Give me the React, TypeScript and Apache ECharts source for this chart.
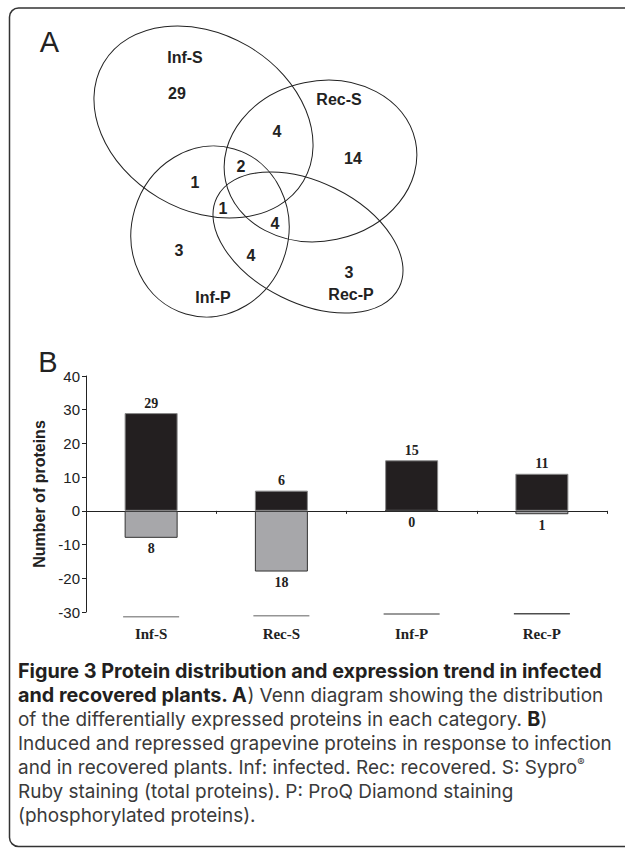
import React, { useEffect, useRef } from 'react';
import * as echarts from 'echarts';

// ---- Bar chart data (panel B) ----
const categories = ['Inf-S', 'Rec-S', 'Inf-P', 'Rec-P'];
const induced = [29, 6, 15, 11];
const repressed = [-8, -18, 0, -1];
const baselineMarks = [-31.4, -31.1, -30.6, -30.5];
const yMin = -30;
const yMax = 40;
const yInterval = 10;

// ---- Venn data (panel A) ----
const vennSets = ['Inf-S', 'Rec-S', 'Inf-P', 'Rec-P'];
const vennCounts = ['29', '4', '14', '2', '1', '1', '4', '3', '4', '3'];

// ---- Caption ----
const captionBoldLine = 'Figure 3 Protein distribution and expression trend in infected';
const captionRegularLine = 'Induced and repressed grapevine proteins in response to infection';
const captionLines = [
  '{b|' + captionBoldLine + '}',
  '{b|and recovered plants. A}{n|) Venn diagram showing the distribution}',
  '{n|of the differentially expressed proteins in each category. }{b|B}{n|)}',
  '{n|' + captionRegularLine + '}',
  '{n|and in recovered plants. Inf: infected. Rec: recovered. S: Sypro}{sup|®}',
  '{n|Ruby staining (total proteins). P: ProQ Diamond staining}',
  '{n|(phosphorylated proteins).}',
];

function fitSize(text: string, font: string, weight: string, target: number): number {
  const c = document.createElement('canvas');
  const ctx = c.getContext('2d');
  if (!ctx) return 19;
  ctx.font = `${weight} 100px ${font}`;
  const w = ctx.measureText(text).width;
  return w > 0 ? (100 * target) / w : 19;
}

export default function App() {
  const ref = useRef<HTMLDivElement>(null);
  useEffect(() => {
    const chart = echarts.init(ref.current!, null, { renderer: 'svg', width: 625, height: 848 });

    const ellipses = [
      { x: 203.5, y: 122, rx: 116, ry: 88, rot: -30.5 },
      { x: 320.5, y: 161, rx: 97, ry: 80, rot: 11.8 },
      { x: 210, y: 231.5, rx: 86, ry: 78.4, rot: 73.7 },
      { x: 308, y: 242.5, rx: 101.7, ry: 60.5, rot: -26.3 },
    ];
    const setLabelPos = [
      [185, 57.5],
      [339, 99],
      [213, 297],
      [351, 294],
    ];
    const countPos = [
      [177, 93],
      [277, 131.5],
      [353, 158],
      [241, 166],
      [195, 182],
      [223, 208],
      [275, 223],
      [179, 250],
      [251, 255],
      [349, 272],
    ];
    const vennFont = { fontFamily: 'Liberation Sans, Arial, sans-serif', fontWeight: 'bold', fontSize: 16, fill: '#222' };
    const capFont = 'Inter';
    const lh = 24.1;
    const bSize = Math.min(19.8, fitSize(captionBoldLine, capFont, 'bold', 594));
    const nSize = Math.min(19.8, fitSize(captionRegularLine, capFont, 'normal', 594));

    const graphic: any[] = [
      {
        type: 'rect',
        shape: { x: 9.5, y: 8, width: 700, height: 838.5, r: 9 },
        style: { fill: 'none', stroke: '#333', lineWidth: 1.5 },
        silent: true,
      },
      ...ellipses.map((e) => ({
        type: 'ellipse',
        x: e.x,
        y: e.y,
        rotation: (e.rot * Math.PI) / 180,
        shape: { cx: 0, cy: 0, rx: e.rx, ry: e.ry },
        style: { fill: 'none', stroke: '#222', lineWidth: 1 },
      })),
      ...vennSets.map((t, i) => ({
        type: 'text',
        x: setLabelPos[i][0],
        y: setLabelPos[i][1],
        style: { text: t, align: 'center', verticalAlign: 'middle', ...vennFont },
      })),
      ...vennCounts.map((t, i) => ({
        type: 'text',
        x: countPos[i][0],
        y: countPos[i][1],
        style: { text: t, align: 'center', verticalAlign: 'middle', ...vennFont },
      })),
      {
        type: 'text',
        x: 49.5,
        y: 42,
        style: { text: 'A', align: 'center', verticalAlign: 'middle', fontFamily: 'Liberation Sans, Arial, sans-serif', fontSize: 29, fill: '#222' },
      },
      {
        type: 'text',
        x: 48,
        y: 361.5,
        style: { text: 'B', align: 'center', verticalAlign: 'middle', fontFamily: 'Liberation Sans, Arial, sans-serif', fontSize: 29, fill: '#222' },
      },
      {
        type: 'text',
        x: 18,
        y: 671 - lh / 2,
        style: {
          text: captionLines.join('\n'),
          align: 'left',
          verticalAlign: 'top',
          fontFamily: capFont,
          fontSize: nSize,
          lineHeight: lh,
          rich: {
            b: { fontFamily: capFont, fontSize: bSize, fontWeight: 'bold', fill: '#231f20', lineHeight: lh },
            n: { fontFamily: capFont, fontSize: nSize, fill: '#3a3a3a', lineHeight: lh },
            sup: { fontFamily: capFont, fontSize: 11, fill: '#3a3a3a', lineHeight: lh, verticalAlign: 'top', padding: [1, 0, 0, 0] },
          },
        },
      },
    ];

    const option: any = {
      animation: false,
      backgroundColor: '#ffffff',
      grid: { left: 86, right: 18, top: 376, bottom: 236, containLabel: false },
      xAxis: [
        {
          type: 'category',
          data: categories,
          position: 'bottom',
          axisLine: { show: true, onZero: true, lineStyle: { color: '#222', width: 1 } },
          axisTick: { show: true, length: 3, lineStyle: { color: '#222' } },
          axisLabel: { show: false },
          splitLine: { show: false },
        },
        {
          type: 'category',
          data: categories,
          position: 'bottom',
          axisLine: { show: false, onZero: false },
          axisTick: { show: false },
          axisLabel: {
            show: true,
            margin: 14,
            fontFamily: 'Liberation Serif, Times New Roman, serif',
            fontWeight: 'bold',
            fontSize: 15,
            color: '#222',
          },
          splitLine: { show: false },
        },
      ],
      yAxis: {
        type: 'value',
        min: yMin,
        max: yMax,
        interval: yInterval,
        name: 'Number of proteins',
        nameLocation: 'middle',
        nameGap: 36,
        nameRotate: 90,
        nameTextStyle: { fontFamily: 'Liberation Sans, Arial, sans-serif', fontWeight: 'bold', fontSize: 16, color: '#222' },
        axisLine: { show: true, lineStyle: { color: '#222', width: 1 } },
        axisTick: { show: true, length: 4, lineStyle: { color: '#222' } },
        axisLabel: { margin: 6, fontFamily: 'Liberation Sans, Arial, sans-serif', fontSize: 15, color: '#222' },
        splitLine: { show: false },
      },
      series: [
        {
          type: 'bar',
          name: 'Induced',
          data: induced,
          barWidth: 53,
          barGap: '-100%',
          itemStyle: { color: '#231f20', borderColor: '#8a8a8a', borderWidth: 1 },
          label: {
            show: true,
            position: 'top',
            distance: 3,
            fontFamily: 'Liberation Serif, Times New Roman, serif',
            fontWeight: 'bold',
            fontSize: 14,
            color: '#222',
          },
          z: 2,
        },
        {
          type: 'bar',
          name: 'Repressed',
          data: repressed,
          barWidth: 53,
          barGap: '-100%',
          itemStyle: { color: '#a7a7aa', borderColor: '#333', borderWidth: 1 },
          label: {
            show: true,
            position: 'bottom',
            distance: 4,
            formatter: (p: any) => String(Math.abs(p.value)),
            fontFamily: 'Liberation Serif, Times New Roman, serif',
            fontWeight: 'bold',
            fontSize: 14,
            color: '#222',
          },
          z: 2,
        },
        {
          type: 'scatter',
          name: 'baseline',
          data: baselineMarks.map((v, i) => ({
            value: [categories[i], v],
            itemStyle: { color: ['#7a7a7a', '#7a7a7a', '#555', '#222'][i] },
          })),
          symbol: 'rect',
          symbolSize: [56, 1.5],
          clip: false,
          silent: true,
        },
      ],
      graphic,
    };
    chart.setOption(option);
    return () => chart.dispose();
  }, []);
  return (
    <div
      ref={ref}
      style={{ position: 'absolute', left: 0, top: 0, width: 625, height: 848, background: '#fff' }}
    />
  );
}
